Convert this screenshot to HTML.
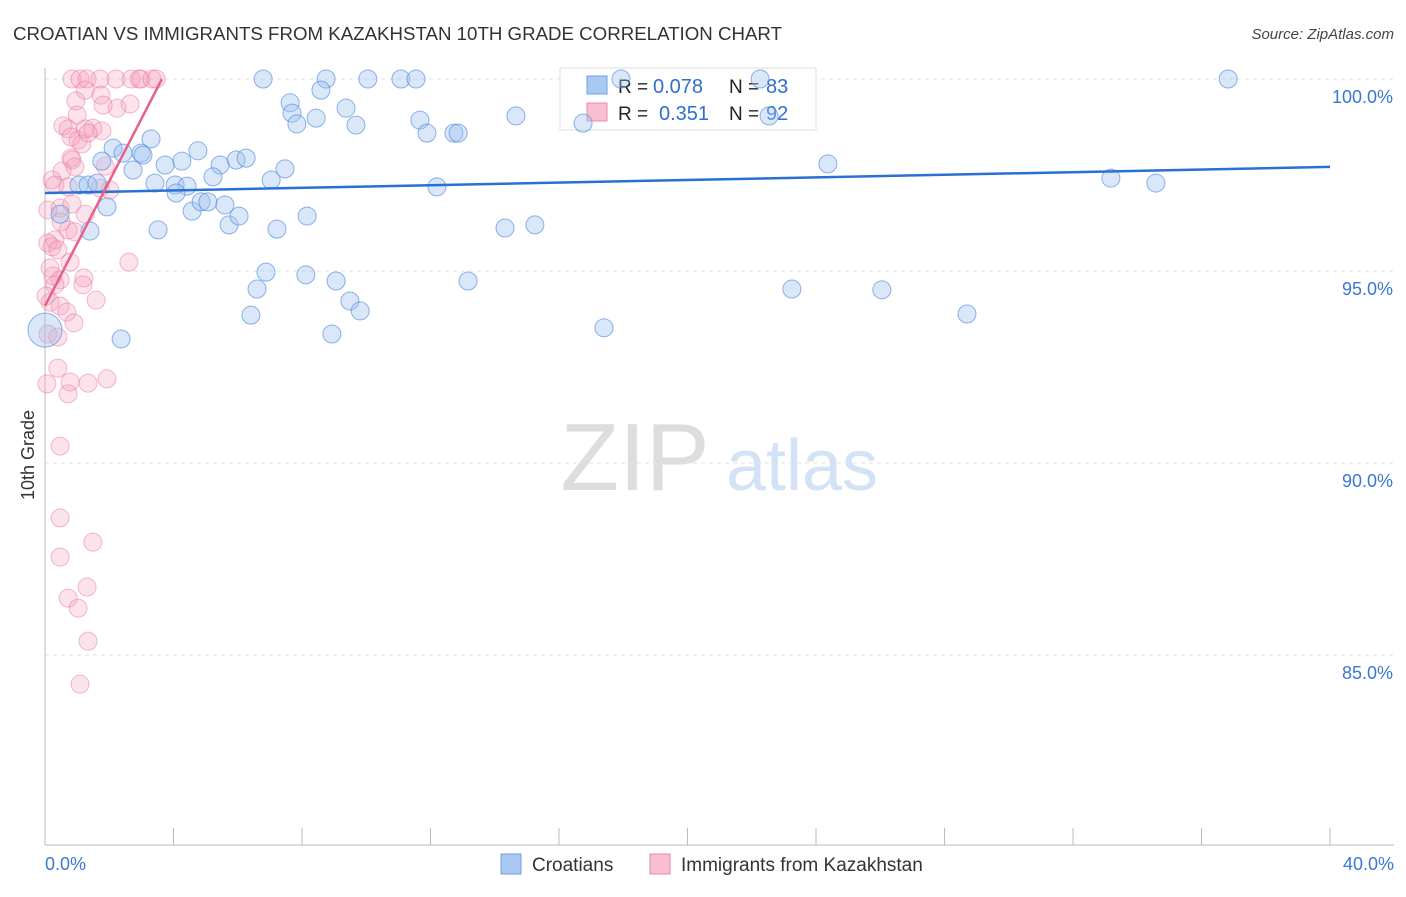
<!DOCTYPE html>
<html><head><meta charset="utf-8"><style>
body{margin:0;background:#fff;font-family:"Liberation Sans",sans-serif;}
svg text{font-family:"Liberation Sans",sans-serif;}
</style></head><body>
<svg id="chart" width="1406" height="892" xmlns="http://www.w3.org/2000/svg">
<text x="13" y="40" font-size="18" fill="#333" textLength="769" lengthAdjust="spacingAndGlyphs">CROATIAN VS IMMIGRANTS FROM KAZAKHSTAN 10TH GRADE CORRELATION CHART</text>
<text x="1394" y="39" font-size="15" fill="#444" text-anchor="end" font-style="italic">Source: ZipAtlas.com</text>
<g>
<text x="635" y="490" font-size="96" fill="#ddd" font-family="Liberation Serif" text-anchor="middle">ZIP</text>
<text x="802" y="490" font-size="72" fill="#d3e2f4" text-anchor="middle">atlas</text>
</g>
<g id="grid"></g>
<g id="axes"></g>
<g>
<rect x="560" y="68" width="256" height="62" fill="#fff" stroke="#ddd"/>
<rect x="587" y="76" width="20" height="18" fill="#a9c8f2" stroke="#6fa0e0"/>
<rect x="587" y="103" width="20" height="18" fill="#f7bfd0" stroke="#eb8aa8"/>
<text x="618" y="93" font-size="19" fill="#222">R =</text>
<text x="653" y="93" font-size="20" fill="#2f6ed2">0.078</text>
<text x="729" y="93" font-size="19" fill="#222">N =</text>
<text x="766" y="93" font-size="20" fill="#2f6ed2">83</text>
<text x="618" y="120" font-size="19" fill="#222">R =</text>
<text x="659" y="120" font-size="20" fill="#2f6ed2">0.351</text>
<text x="729" y="120" font-size="19" fill="#222">N =</text>
<text x="766" y="120" font-size="20" fill="#2f6ed2">92</text>
</g>
<g id="pts-pink"></g>
<g id="pts-blue"></g>
<g id="trends"></g>
<text transform="translate(34,455) rotate(-90)" font-size="18" fill="#333" text-anchor="middle">10th Grade</text>
<g>
<rect x="501" y="854" width="20" height="20" fill="#a9c8f2" stroke="#6fa0e0"/>
<text x="532" y="871" font-size="19" fill="#333">Croatians</text>
<rect x="650" y="854" width="20" height="20" fill="#f7bfd0" stroke="#eb8aa8"/>
<text x="681" y="871" font-size="19" fill="#333">Immigrants from Kazakhstan</text>
</g>
</svg>
<script>
const blueX=[6.79,8.75,10.05,11.08,11.55,17.93,36.83,22.26,7.63,8.59,9.37,7.69,8.44,7.84,9.68,11.67,11.89,12.73,12.86,14.66,16.75,22.54,3.30,4.76,2.12,2.43,2.99,3.05,1.77,4.26,3.74,5.95,6.26,5.45,2.74,7.47,7.04,3.42,4.05,4.42,4.08,5.23,12.20,24.37,33.18,34.58,1.06,1.34,1.62,1.93,0.47,1.40,3.52,4.58,4.86,5.07,5.60,5.73,6.04,7.22,8.16,14.32,15.25,6.88,8.12,9.06,6.60,6.41,9.49,9.81,8.93,13.17,2.37,17.40,23.25,26.05,28.70,0];
const blueY=[100,100,100,100,100,100,100,100,99.38,99.71,99.24,99.11,98.98,98.83,98.80,98.93,98.59,98.59,98.59,99.04,98.85,99.04,98.44,98.13,98.20,98.07,98.07,98.02,97.86,97.86,97.76,97.89,97.94,97.76,97.63,97.66,97.37,97.29,97.24,97.21,97.03,97.45,97.19,97.79,97.42,97.29,97.24,97.24,97.29,96.67,96.48,96.04,96.07,96.56,96.80,96.80,96.72,96.20,96.43,96.09,96.43,96.12,96.20,94.97,94.90,94.74,94.53,93.85,94.22,93.96,93.36,94.74,93.23,93.52,94.53,94.51,93.88,93.46];
const pinkX=[0.84,1.09,1.31,1.71,2.21,2.68,2.93,2.99,3.33,3.46,1.25,1.74,0.96,2.24,2.65,1.00,0.56,0.72,1.25,1.49,1.77,0.81,1.03,1.15,1.34,0.81,0.84,0.93,1.87,0.53,0.22,0.31,0.72,1.71,2.02,0.47,0.84,1.25,0.09,0.72,0.93,0.31,0.09,0.22,0.40,0.78,2.61,0.25,0.47,1.21,0.31,1.18,1.59,0.16,0.47,0.68,0.90,0.09,0.40,0.40,0.06,0.78,0.72,1.34,1.93,0.47,0.47,0.47,1.49,0.72,1.31,1.03,1.34,1.09,1.81,0.50,0.16,0.03];
const pinkY=[100,100,100,100,100,100,100,100,100,100,99.71,99.58,99.43,99.24,99.35,99.06,98.78,98.70,98.70,98.72,98.65,98.49,98.41,98.31,98.59,97.94,97.89,97.71,97.73,97.60,97.37,97.24,97.19,97.16,97.11,96.64,96.74,96.48,96.59,96.07,96.02,95.81,95.73,95.63,95.55,95.23,95.23,94.87,94.77,94.82,94.64,94.64,94.24,94.19,94.09,93.93,93.65,93.36,93.28,92.47,92.06,92.11,91.80,92.08,92.19,90.44,88.57,87.55,87.94,86.48,86.77,86.22,85.36,84.24,99.32,96.28,95.08,94.35];
const blueTrend=[97.03,97.71];
const pinkTrend=[94.09,100];
const pinkTrendX=[0,3.64];
const yTicks=[100,95,90,85];
const yTickLabels=["100.0%","95.0%","90.0%","85.0%"];
const xTicks=[0,4,8,12,16,20,24,28,32,36,40];
const xEndLabels=["0.0%","40.0%"];

const NS="http://www.w3.org/2000/svg";
const xs=v=>45+v*1285/40;
const ys=v=>79+(100-v)*38.4;
function mk(tag,attrs,parent){const e=document.createElementNS(NS,tag);for(const k in attrs)e.setAttribute(k,attrs[k]);parent.appendChild(e);return e;}
const grid=document.getElementById('grid'),axes=document.getElementById('axes');
yTicks.forEach((t,i)=>{
 const l=mk('line',{x1:45,x2:1394,y1:ys(t),y2:ys(t),stroke:'#e2e2e2','stroke-dasharray':'4,4'},grid);
 
 
 const tx=mk('text',{x:1393,y:ys(t)+24,'font-size':18,fill:'#3a78d4','text-anchor':'end'},axes);
 tx.textContent=yTickLabels[i];
 
 
});
const xa=mk('line',{x1:45,x2:1394,y1:845,y2:845,stroke:'#bbb'},axes);


const ya=mk('line',{x1:45,x2:45,y1:68,y2:845,stroke:'#bbb'},axes);


xTicks.forEach(t=>{
 const l=mk('line',{x1:xs(t),x2:xs(t),y1:828,y2:845,stroke:'#bbb'},axes);
 
 
});
const xl0=mk('text',{x:45,y:870,'font-size':18,fill:'#3a78d4'},axes);xl0.textContent=xEndLabels[0];


const xl1=mk('text',{x:1394,y:870,'font-size':18,fill:'#3a78d4','text-anchor':'end'},axes);xl1.textContent=xEndLabels[1];


const gp=document.getElementById('pts-pink'),gb=document.getElementById('pts-blue');
pinkX.forEach((x,i)=>{
 const c=mk('circle',{cx:xs(x),cy:ys(pinkY[i]),r:9,fill:'rgba(244,160,186,0.3)',stroke:'rgba(232,120,155,0.5)','stroke-width':1},gp);
 
 
});
blueX.forEach((x,i)=>{
 const big=i===blueX.length-1;
 const c=mk('circle',{cx:xs(x),cy:ys(blueY[i]),r:big?17:9,fill:'rgba(160,196,240,0.4)',stroke:'rgba(80,140,220,0.65)','stroke-width':1},gb);
 
 
});
const tg=document.getElementById('trends');
const bl=mk('line',{x1:xs(0),y1:ys(blueTrend[0]),x2:xs(40),y2:ys(blueTrend[1]),stroke:'#2a6fd4','stroke-width':2.5},tg);


const pl=mk('line',{x1:xs(pinkTrendX[0]),y1:ys(pinkTrend[0]),x2:xs(pinkTrendX[1]),y2:ys(pinkTrend[1]),stroke:'#e8608c','stroke-width':2.5},tg);


</script>
</body></html>
